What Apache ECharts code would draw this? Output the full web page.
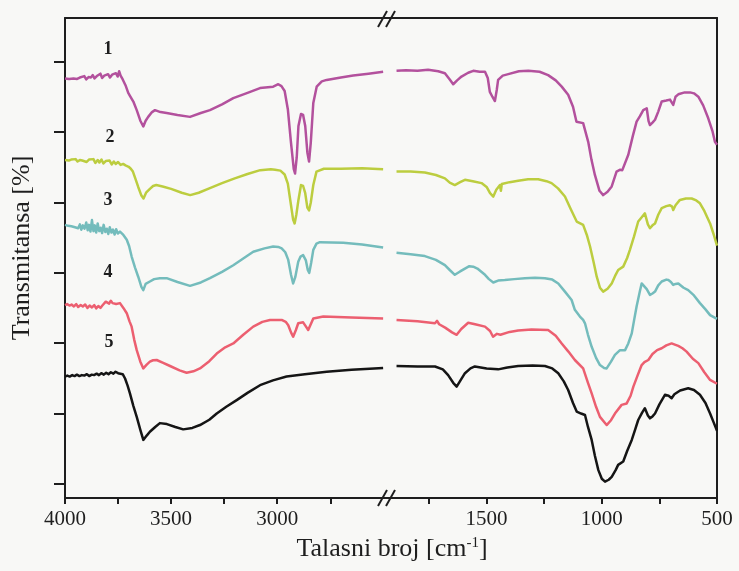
<!DOCTYPE html>
<html><head><meta charset="utf-8">
<script src="https://cdn.jsdelivr.net/npm/echarts@6/dist/echarts.min.js"></script>
<style>html,body{margin:0;padding:0;background:#f8f8f6}#c{width:739px;height:571px}</style>
</head><body><div id="c"></div>
<script>
// ---- tick values ----
const leftMajorTicks = [4000, 3500, 3000];
const leftAllTicks = [4000, 3750, 3500, 3250, 3000, 2750];
const rightMajorTicks = [1500, 1000, 500];
const rightAllTicks = [1750, 1500, 1250, 1000, 750, 500];
const yTicks = [2.92, 17.58, 32.25, 46.92, 61.58, 76.25, 90.92];
const curveLabels = ['1', '2', '3', '4', '5'];

// ---- spectrum 1 (magenta) ----
const s1Left = [[4000,87.4],[3992,87.6],[3981,87.3],[3972,87.5],[3960,87.4],[3951,87.8],[3943,87.3],[3930,87.6],[3921,87.5],[3909,87.9],[3900,87.2],[3889,87.7],[3878,87.6],[3869,88.1],[3861,87.4],[3850,87.9],[3842,87.6],[3833,88.4],[3825,87.5],[3815,88.0],[3806,87.7],[3797,88.3],[3788,87.6],[3778,88.2],[3770,87.9],[3760,88.5],[3752,87.8],[3745,88.9],[3738,88.0],[3728,87.2],[3715,86.0],[3702,84.4],[3694,83.8],[3686,84.2],[3678,82.6],[3662,80.8],[3645,78.6],[3631,77.4],[3620,78.6],[3608,79.4],[3590,80.4],[3576,80.8],[3550,80.4],[3521,80.2],[3470,79.8],[3411,79.4],[3360,80.2],[3317,80.8],[3260,82.0],[3207,83.3],[3140,84.4],[3081,85.4],[3019,85.7],[2995,86.2],[2980,85.8],[2965,84.8],[2950,81.0],[2935,74.0],[2922,68.5],[2916,67.6],[2908,71.0],[2900,77.5],[2888,80.0],[2878,79.8],[2868,77.5],[2858,72.0],[2850,70.1],[2842,74.0],[2830,82.3],[2814,85.7],[2790,86.8],[2767,87.1],[2700,87.6],[2642,88.0],[2570,88.4],[2501,88.8]];
const s1Right = [[1891,89.0],[1850,89.1],[1800,89.0],[1754,89.2],[1710,88.9],[1681,88.5],[1660,87.2],[1645,86.2],[1628,87.0],[1609,87.8],[1580,88.6],[1558,89.0],[1530,88.8],[1507,88.8],[1495,87.5],[1486,84.6],[1475,83.6],[1464,82.7],[1456,85.0],[1450,87.1],[1430,88.0],[1406,88.3],[1360,88.9],[1319,89.0],[1270,88.8],[1233,88.1],[1200,87.0],[1174,85.7],[1146,84.0],[1125,81.5],[1110,78.4],[1081,78.1],[1059,74.2],[1045,70.5],[1030,67.3],[1010,64.0],[994,63.1],[975,63.8],[957,64.9],[936,68.0],[920,68.4],[911,68.3],[885,71.5],[865,75.5],[849,78.4],[835,79.5],[820,80.8],[805,81.2],[797,78.5],[791,77.7],[780,78.2],[769,78.8],[755,80.5],[740,82.6],[720,82.8],[704,83.0],[690,81.9],[680,83.6],[668,84.1],[640,84.5],[617,84.5],[600,84.3],[581,83.6],[560,81.8],[538,79.1],[520,76.5],[509,74.2],[500,73.6]];

// ---- spectrum 2 (yellow-green) ----
const s2Left = [[4000,70.4],[3991,70.6],[3982,70.3],[3971,70.5],[3962,70.2],[3950,70.6],[3941,70.1],[3930,70.4],[3919,70.3],[3910,70.7],[3898,70.0],[3887,70.5],[3878,70.1],[3866,70.6],[3857,69.8],[3846,70.4],[3838,69.9],[3828,70.5],[3819,69.7],[3808,70.2],[3799,69.8],[3790,70.3],[3780,69.5],[3770,70.1],[3761,69.6],[3750,70.0],[3738,69.4],[3726,69.6],[3715,69.3],[3700,69.0],[3690,68.6],[3680,68.0],[3668,66.5],[3655,64.8],[3640,63.0],[3630,62.4],[3618,63.6],[3600,64.4],[3585,65.0],[3570,65.2],[3540,64.9],[3500,64.4],[3450,63.6],[3410,63.1],[3370,63.6],[3320,64.5],[3260,65.6],[3200,66.6],[3140,67.5],[3080,68.3],[3030,68.5],[3010,68.4],[2985,68.2],[2965,67.4],[2950,65.5],[2935,61.0],[2925,58.0],[2918,57.2],[2910,59.0],[2900,62.1],[2888,65.2],[2878,65.0],[2868,63.5],[2858,60.5],[2850,59.9],[2842,61.5],[2830,65.2],[2815,68.0],[2780,68.6],[2700,68.6],[2600,68.7],[2501,68.5]];
const s2Right = [[1891,68.0],[1830,68.0],[1768,67.8],[1720,67.3],[1681,66.6],[1660,65.7],[1638,65.2],[1615,65.8],[1594,66.3],[1560,66.0],[1522,65.6],[1500,64.8],[1485,63.5],[1471,62.8],[1458,64.2],[1442,65.2],[1438,64.0],[1434,65.4],[1400,65.8],[1363,66.1],[1320,66.4],[1276,66.4],[1240,66.0],[1218,65.6],[1190,64.5],[1160,62.8],[1135,60.2],[1109,57.6],[1081,56.9],[1065,54.8],[1051,52.4],[1035,49.0],[1022,46.1],[1008,43.8],[994,43.0],[975,43.6],[957,44.7],[940,46.5],[929,47.5],[907,48.2],[890,50.0],[878,51.7],[860,54.5],[842,57.6],[825,58.6],[813,59.3],[800,57.0],[791,56.2],[780,56.8],[769,57.2],[755,59.0],[740,60.4],[720,60.8],[704,61.0],[695,60.7],[690,60.0],[680,61.0],[661,62.1],[635,62.4],[610,62.4],[590,62.0],[574,61.4],[555,59.8],[530,57.2],[515,55.0],[500,52.6]];

// ---- spectrum 3 (teal) ----
const s3Left = [[4000,56.9],[3993,57.1],[3985,56.7],[3978,57.0],[3970,56.6],[3961,56.9],[3953,56.4],[3946,56.8],[3938,56.2],[3930,57.0],[3923,55.9],[3916,56.8],[3908,56.1],[3900,57.4],[3893,55.8],[3887,56.9],[3880,55.5],[3873,57.9],[3866,55.6],[3860,56.8],[3853,55.3],[3846,57.2],[3839,55.6],[3832,56.3],[3825,55.2],[3818,56.9],[3810,55.4],[3803,56.1],[3796,55.0],[3789,56.4],[3781,55.3],[3774,55.9],[3766,54.9],[3759,56.0],[3751,55.1],[3741,55.5],[3725,54.8],[3709,53.8],[3698,52.5],[3686,50.3],[3670,48.0],[3655,46.1],[3640,44.0],[3631,43.3],[3620,44.6],[3600,45.1],[3580,45.6],[3553,45.8],[3521,45.8],[3470,45.0],[3411,44.2],[3360,44.9],[3317,45.8],[3260,47.1],[3207,48.5],[3160,49.9],[3113,51.3],[3060,52.0],[3019,52.4],[2995,52.3],[2979,52.0],[2962,51.2],[2948,49.6],[2935,46.5],[2925,44.7],[2915,46.0],[2901,49.2],[2890,50.3],[2878,50.6],[2865,49.5],[2856,47.5],[2849,46.9],[2840,49.0],[2830,51.7],[2815,53.0],[2799,53.3],[2689,53.2],[2600,52.8],[2501,52.2]];
const s3Right = [[1891,51.1],[1830,50.8],[1768,50.4],[1720,49.6],[1681,48.5],[1660,47.5],[1638,46.5],[1615,47.2],[1594,47.8],[1575,48.3],[1558,48.2],[1540,47.8],[1507,46.5],[1490,45.6],[1471,44.9],[1450,45.3],[1421,45.4],[1380,45.6],[1334,45.8],[1290,45.9],[1247,45.8],[1215,45.5],[1189,44.7],[1160,43.0],[1131,41.25],[1117,39.2],[1095,37.8],[1081,37.1],[1073,36.4],[1060,34.0],[1044,31.5],[1025,29.2],[1008,27.7],[990,27.1],[979,27.0],[960,28.4],[943,29.8],[921,30.8],[899,30.8],[885,32.2],[870,34.3],[860,37.0],[849,39.9],[835,43.0],[827,44.7],[820,44.7],[805,43.5],[791,42.3],[780,42.6],[769,43.0],[755,44.3],[740,45.1],[720,45.5],[711,45.4],[700,45.0],[690,44.4],[680,44.6],[668,44.7],[645,43.8],[625,43.3],[600,42.2],[574,40.6],[550,39.3],[530,38.1],[500,37.3]];

// ---- spectrum 4 (pink) ----
const s4Left = [[4000,40.2],[3990,40.4],[3979,40.1],[3969,40.3],[3958,39.9],[3947,40.4],[3938,39.8],[3926,40.2],[3916,39.9],[3905,40.3],[3894,39.6],[3884,40.1],[3873,39.7],[3862,40.2],[3853,39.5],[3843,40.0],[3833,39.6],[3824,40.1],[3815,39.8],[3808,40.9],[3800,41.0],[3792,40.5],[3784,41.1],[3776,40.6],[3768,40.9],[3759,40.4],[3750,40.8],[3741,40.6],[3725,39.6],[3709,38.5],[3696,36.8],[3686,35.7],[3674,33.0],[3662,30.8],[3645,28.4],[3631,27.0],[3615,27.8],[3600,28.4],[3585,28.7],[3568,28.75],[3540,28.2],[3505,27.5],[3460,26.6],[3427,26.1],[3395,26.4],[3364,27.0],[3320,28.5],[3285,30.1],[3245,31.4],[3207,32.2],[3160,34.0],[3113,35.7],[3070,36.7],[3034,37.1],[2979,37.1],[2960,36.7],[2948,36.0],[2935,34.5],[2925,33.6],[2912,35.0],[2901,36.4],[2878,36.6],[2866,35.8],[2854,35.0],[2842,36.2],[2830,37.4],[2783,37.8],[2650,37.6],[2501,37.4]];
const s4Right = [[1891,37.1],[1800,36.8],[1724,36.4],[1715,36.9],[1706,36.2],[1680,35.5],[1650,34.5],[1630,34.0],[1610,35.2],[1580,36.5],[1550,36.2],[1507,35.7],[1485,34.8],[1472,33.6],[1464,33.3],[1455,34.2],[1440,34.0],[1400,34.6],[1363,34.9],[1305,35.1],[1233,35.0],[1200,33.8],[1174,32.2],[1145,30.5],[1117,28.75],[1081,27.0],[1060,24.0],[1044,21.8],[1025,19.0],[1008,16.9],[979,15.2],[960,16.2],[943,17.6],[914,19.4],[892,19.7],[875,21.3],[863,23.2],[845,25.5],[827,27.7],[815,28.3],[808,28.0],[798,28.75],[780,30.0],[760,30.8],[740,31.2],[720,31.8],[697,32.2],[680,31.9],[668,31.7],[650,31.2],[632,30.5],[605,29.0],[581,28.1],[555,26.2],[530,24.6],[500,23.8]];

// ---- spectrum 5 (black) ----
const s5Left = [[4000,25.3],[3989,25.5],[3978,25.3],[3966,25.6],[3955,25.4],[3944,25.7],[3932,25.4],[3921,25.6],[3909,25.5],[3897,25.8],[3886,25.4],[3874,25.7],[3863,25.6],[3851,25.9],[3840,25.6],[3829,26.0],[3817,25.7],[3806,26.1],[3795,25.8],[3784,26.2],[3772,25.9],[3762,26.3],[3750,26.0],[3741,26.3],[3728,25.8],[3717,24.9],[3705,23.4],[3694,21.8],[3678,19.2],[3662,16.9],[3645,14.2],[3631,12.1],[3615,13.0],[3600,13.8],[3575,14.8],[3553,15.6],[3520,15.4],[3480,14.8],[3443,14.3],[3400,14.6],[3364,15.2],[3320,16.3],[3285,17.6],[3240,19.0],[3191,20.4],[3140,21.9],[3081,23.5],[3020,24.5],[2956,25.3],[2870,25.8],[2767,26.3],[2650,26.7],[2501,27.1]];
const s5Right = [[1891,27.5],[1800,27.4],[1724,27.4],[1690,26.8],[1667,25.6],[1645,24.0],[1630,23.2],[1612,24.6],[1594,26.0],[1570,27.0],[1551,27.4],[1500,27.0],[1450,26.8],[1410,27.2],[1363,27.5],[1300,27.6],[1247,27.5],[1215,27.0],[1189,26.0],[1165,24.3],[1146,22.5],[1125,19.8],[1109,18.0],[1090,17.6],[1073,17.3],[1060,14.8],[1044,12.1],[1030,8.8],[1015,5.8],[1000,4.0],[986,3.4],[970,3.8],[957,4.4],[940,5.8],[929,6.9],[907,7.6],[890,9.8],[870,12.1],[855,14.3],[842,16.25],[825,17.8],[813,18.7],[800,17.2],[791,16.6],[780,17.0],[769,17.6],[750,19.5],[726,21.5],[710,21.3],[697,20.8],[685,21.6],[660,22.4],[625,22.85],[600,22.5],[574,21.5],[550,19.8],[530,17.6],[515,15.8],[500,14.0]];

const colors = ['#b3519d', '#bccd3f', '#74bcbc', '#ec5f70', '#151515'];
const spectra = [[s1Left, s1Right], [s2Left, s2Right], [s3Left, s3Right], [s4Left, s4Right], [s5Left, s5Right]];

const FONT = '"Liberation Serif", "Times New Roman", serif';
const INK = '#1e1e1e';

const series = [];
spectra.forEach((pair, i) => {
  [0, 1].forEach(side => {
    series.push({
      type: 'line',
      name: curveLabels[i],
      xAxisIndex: side === 0 ? 0 : 2,
      yAxisIndex: side,
      data: pair[side],
      symbol: 'none',
      smooth: false,
      lineStyle: { color: colors[i], width: 2.5, join: 'round' },
      itemStyle: { color: colors[i] },
      silent: true
    });
  });
});

const axisLineStyle = { show: true, onZero: false, lineStyle: { color: INK, width: 2 } };
const plain = v => String(v);

const option = {
  backgroundColor: '#f8f8f6',
  animation: false,
  grid: [
    { left: 65, top: 18, width: 323, height: 480 },
    { left: 388, top: 18, width: 329, height: 480 }
  ],
  xAxis: [
    { gridIndex: 0, type: 'value', min: 2478, max: 4000, inverse: true, position: 'bottom',
      axisLine: axisLineStyle,
      axisTick: { show: true, inside: false, length: 6, customValues: leftAllTicks, lineStyle: { color: INK, width: 2 } },
      axisLabel: { show: true, customValues: leftMajorTicks, formatter: plain, margin: 11, color: INK, fontFamily: FONT, fontSize: 21 },
      splitLine: { show: false } },
    { gridIndex: 0, type: 'value', min: 2478, max: 4000, inverse: true, position: 'top',
      axisLine: axisLineStyle, axisTick: { show: false }, axisLabel: { show: false }, splitLine: { show: false } },
    { gridIndex: 1, type: 'value', min: 500, max: 1928, inverse: true, position: 'bottom',
      axisLine: axisLineStyle,
      axisTick: { show: true, inside: false, length: 6, customValues: rightAllTicks, lineStyle: { color: INK, width: 2 } },
      axisLabel: { show: true, customValues: rightMajorTicks, formatter: plain, margin: 11, color: INK, fontFamily: FONT, fontSize: 21 },
      splitLine: { show: false } },
    { gridIndex: 1, type: 'value', min: 500, max: 1928, inverse: true, position: 'top',
      axisLine: axisLineStyle, axisTick: { show: false }, axisLabel: { show: false }, splitLine: { show: false } }
  ],
  yAxis: [
    { gridIndex: 0, type: 'value', min: 0, max: 100, position: 'left',
      axisLine: axisLineStyle,
      axisTick: { show: true, inside: false, length: 11, customValues: yTicks, lineStyle: { color: INK, width: 2 } },
      axisLabel: { show: false }, splitLine: { show: false } },
    { gridIndex: 1, type: 'value', min: 0, max: 100, position: 'right',
      axisLine: axisLineStyle, axisTick: { show: false }, axisLabel: { show: false }, splitLine: { show: false } }
  ],
  series: series,
  graphic: [
    // axis break marks (bottom)
    { type: 'line', shape: { x1: 378, y1: 506, x2: 387, y2: 490 }, style: { stroke: INK, lineWidth: 2 }, z: 100 },
    { type: 'line', shape: { x1: 386, y1: 506, x2: 395, y2: 490 }, style: { stroke: INK, lineWidth: 2 }, z: 100 },
    // axis break marks (top)
    { type: 'line', shape: { x1: 378, y1: 27, x2: 387, y2: 11 }, style: { stroke: INK, lineWidth: 2 }, z: 100 },
    { type: 'line', shape: { x1: 386, y1: 27, x2: 395, y2: 11 }, style: { stroke: INK, lineWidth: 2 }, z: 100 },
    // curve numbers
    { type: 'text', x: 108, y: 49, style: { text: curveLabels[0], font: 'bold 18px ' + FONT, fill: INK, textAlign: 'center', textVerticalAlign: 'middle' } },
    { type: 'text', x: 110, y: 137, style: { text: curveLabels[1], font: 'bold 18px ' + FONT, fill: INK, textAlign: 'center', textVerticalAlign: 'middle' } },
    { type: 'text', x: 108, y: 200, style: { text: curveLabels[2], font: 'bold 18px ' + FONT, fill: INK, textAlign: 'center', textVerticalAlign: 'middle' } },
    { type: 'text', x: 108, y: 272, style: { text: curveLabels[3], font: 'bold 18px ' + FONT, fill: INK, textAlign: 'center', textVerticalAlign: 'middle' } },
    { type: 'text', x: 109, y: 342, style: { text: curveLabels[4], font: 'bold 18px ' + FONT, fill: INK, textAlign: 'center', textVerticalAlign: 'middle' } },
    // axis titles
    { type: 'text', x: 22, y: 248, rotation: Math.PI / 2,
      style: { text: 'Transmitansa [%]', font: '26px ' + FONT, fill: INK, textAlign: 'center', textVerticalAlign: 'middle' } },
    { type: 'text', x: 392, y: 549,
      style: { text: '{a|Talasni broj [cm}{s|-1}{a|]}', textAlign: 'center', textVerticalAlign: 'middle', fill: INK,
        rich: { a: { fontFamily: FONT, fontSize: 26, color: INK }, s: { fontFamily: FONT, fontSize: 15, color: INK, verticalAlign: 'top' } } } }
  ]
};

const chart = echarts.init(document.getElementById('c'));
chart.setOption(option);
</script>
</body></html>
